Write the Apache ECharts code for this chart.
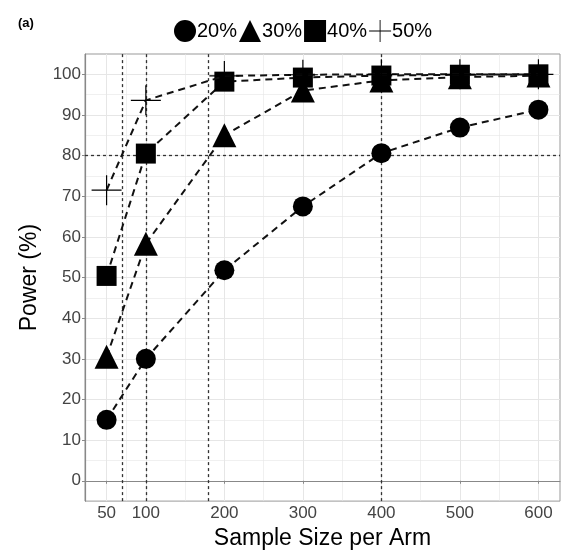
<!DOCTYPE html>
<html>
<head>
<meta charset="utf-8">
<script src="https://cdn.jsdelivr.net/npm/echarts@6/dist/echarts.min.js"></script>
<style>html,body{margin:0;padding:0;background:#fff;}#c{width:563px;height:555px;}</style>
</head>
<body>
<div id="c"></div>
<script>
// ---- data ----
const sampleSizes = [50, 100, 200, 300, 400, 500, 600];
const power20 = [15, 30, 51.8, 67.5, 80.6, 86.9, 91.3];
const power30 = [30.5, 58.3, 85, 96, 98.5, 99.3, 99.7];
const power40 = [50.4, 80.5, 98.2, 99.2, 99.7, 99.9, 100];
const power50 = [71.5, 93.6, 99.6, 99.9, 100, 100, 100];
const seriesNames = ['20%', '30%', '40%', '50%'];
const xTicks = [50, 100, 200, 300, 400, 500, 600];
const xMinorGrid = [75, 150, 250, 350, 450, 550];
const yTicks = [0, 10, 20, 30, 40, 50, 60, 70, 80, 90, 100];
const yMinorGrid = [5, 15, 25, 35, 45, 55, 65, 75, 85, 95];
const refX = [70, 100, 180, 400];
const refY = [80];

const FONT = 'Liberation Sans';
const crossPath = 'path://M48,0 L52,0 L52,48 L100,48 L100,52 L52,52 L52,100 L48,100 L48,52 L0,52 L0,48 L48,48 Z';
const symbols = ['circle', 'triangle', 'rect', crossPath];
const sizes = [20, 24, 20, 30];
const values = [power20, power30, power40, power50];

const chart = echarts.init(document.getElementById('c'), null, {renderer: 'canvas'});

const gridLineData = [];
xTicks.forEach(v => gridLineData.push({xAxis: v, lineStyle: {width: 1}}));
xMinorGrid.forEach(v => gridLineData.push({xAxis: v, lineStyle: {width: 0.6}}));
yTicks.forEach(v => gridLineData.push({yAxis: v, lineStyle: {width: 1}}));
yMinorGrid.forEach(v => gridLineData.push({yAxis: v, lineStyle: {width: 0.6}}));

const refData = [];
refX.forEach(v => refData.push({xAxis: v}));
refY.forEach(v => refData.push({yAxis: v}));

const series = [
  {
    type: 'line', name: '_grid', data: [], silent: true, z: 0,
    markLine: {silent: true, symbol: 'none', label: {show: false}, z: 0,
      lineStyle: {color: '#e6e6e6', type: 'solid'}, data: gridLineData, animation: false}
  },
  {
    type: 'line', name: '_ref', data: [], silent: true, z: 1,
    markLine: {silent: true, symbol: 'none', label: {show: false}, z: 1,
      lineStyle: {color: '#333', type: [3, 3], width: 1.3}, data: refData, animation: false}
  }
];
seriesNames.forEach((n, i) => {
  series.push({
    type: 'line', name: n,
    data: sampleSizes.map((x, j) => [x, values[i][j]]),
    symbol: symbols[i], symbolSize: sizes[i], showSymbol: true,
    lineStyle: {color: '#111', width: 2, type: [7, 5]},
    itemStyle: {color: '#000', borderWidth: 0},
    z: 3 + i, animation: false
  });
});

chart.setOption({
  animation: false,
  backgroundColor: '#fff',
  graphic: [{type: 'text', left: 18, top: 17, style: {text: '(a)', font: 'bold 13px ' + FONT, fill: '#000'}}],
  legend: {
    data: seriesNames.map((n, i) => ({name: n, icon: symbols[i]})),
    left: 169, top: 15, itemGap: 2, itemWidth: 22, itemHeight: 22,
    textStyle: {fontFamily: FONT, fontSize: 20, color: '#000', padding: [0, 0, 0, -4]},
    selectedMode: false
  },
  grid: {left: 85, right: 3, top: 54, bottom: 52, show: true, borderColor: '#999', borderWidth: 1},
  xAxis: {
    type: 'value', min: 22.5, max: 627.5,
    name: 'Sample Size per Arm', nameLocation: 'middle', nameGap: 24,
    nameTextStyle: {fontFamily: FONT, fontSize: 23, color: '#000'},
    axisLine: {show: true, lineStyle: {color: '#888', width: 1.2}},
    axisTick: {show: true, customValues: xTicks, length: 3, lineStyle: {color: '#888'}},
    axisLabel: {customValues: xTicks, fontFamily: FONT, fontSize: 17, color: '#444', margin: 4},
    splitLine: {show: false}
  },
  yAxis: {
    type: 'value', min: -5, max: 105,
    name: 'Power (%)', nameLocation: 'middle', nameGap: 44, nameRotate: 90,
    nameTextStyle: {fontFamily: FONT, fontSize: 23, color: '#000'},
    axisLine: {show: true, lineStyle: {color: '#888', width: 1.2}},
    axisTick: {show: true, customValues: yTicks, length: 3, lineStyle: {color: '#888'}},
    axisLabel: {customValues: yTicks, fontFamily: FONT, fontSize: 17, color: '#444', margin: 4},
    splitLine: {show: false}
  },
  series: series
});
</script>
</body>
</html>
